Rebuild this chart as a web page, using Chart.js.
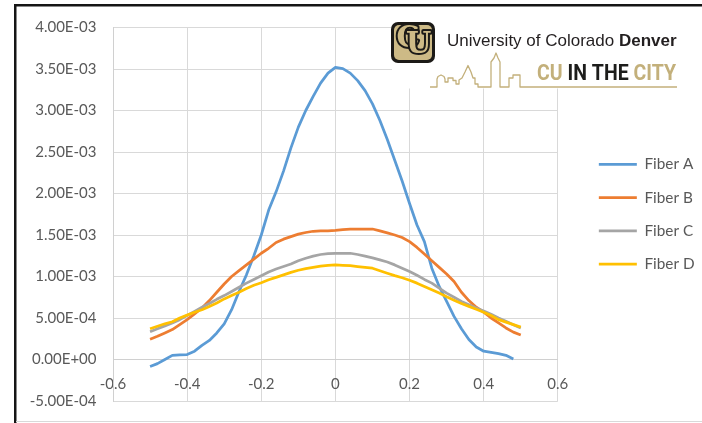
<!DOCTYPE html>
<html>
<head>
<meta charset="utf-8">
<script src="https://cdn.jsdelivr.net/npm/chart.js@4/dist/chart.umd.min.js"></script>
<style>
  html, body { margin: 0; padding: 0; background: #fff; }
  #wrap { width: 702px; height: 423px; }
</style>
</head>
<body>
<div id="wrap"><canvas id="chart" width="702" height="423"></canvas></div>
<script>
// Signal profile across the fiber cross-section (y values given in units of 1e-3)
const UNIT = 1e-3;

const positions = [
  -0.50, -0.48, -0.46, -0.44, -0.42, -0.40, -0.38, -0.36, -0.34, -0.32,
  -0.30, -0.28, -0.26, -0.24, -0.22, -0.20, -0.18, -0.16, -0.14, -0.12,
  -0.10, -0.08, -0.06, -0.04, -0.02, 0.00, 0.02, 0.04, 0.06, 0.08,
  0.10, 0.12, 0.14, 0.16, 0.18, 0.20, 0.22, 0.24, 0.26, 0.28,
  0.30, 0.32, 0.34, 0.36, 0.38, 0.40, 0.42, 0.44, 0.46, 0.48, 0.50
];

const seriesNames = ['Fiber A', 'Fiber B', 'Fiber C', 'Fiber D'];

const fiberA = [
  -0.085, -0.050, 0.000, 0.050, 0.055, 0.060, 0.100, 0.170, 0.230, 0.320,
  0.430, 0.600, 0.820, 1.020, 1.250, 1.500, 1.800, 2.020, 2.270, 2.550,
  2.800, 3.000, 3.170, 3.330, 3.450, 3.520, 3.505, 3.450, 3.360, 3.240,
  3.080, 2.880, 2.650, 2.400, 2.150, 1.880, 1.620, 1.420, 1.100, 0.880,
  0.700, 0.520, 0.370, 0.240, 0.150, 0.100, 0.085, 0.070, 0.050, 0.005, null
];

const fiberB = [
  0.245, 0.280, 0.320, 0.360, 0.420, 0.480, 0.550, 0.620, 0.710, 0.810,
  0.910, 1.000, 1.070, 1.140, 1.210, 1.280, 1.340, 1.410, 1.450, 1.480,
  1.510, 1.530, 1.545, 1.550, 1.550, 1.555, 1.565, 1.572, 1.572, 1.572,
  1.572, 1.550, 1.525, 1.500, 1.470, 1.420, 1.350, 1.270, 1.190, 1.110,
  1.030, 0.940, 0.810, 0.710, 0.630, 0.570, 0.500, 0.440, 0.380, 0.330, 0.295
];

const fiberC = [
  0.335, 0.370, 0.405, 0.440, 0.480, 0.530, 0.580, 0.630, 0.675, 0.725,
  0.770, 0.820, 0.870, 0.920, 0.965, 1.010, 1.055, 1.090, 1.120, 1.150,
  1.190, 1.220, 1.245, 1.265, 1.275, 1.280, 1.280, 1.280, 1.265, 1.245,
  1.225, 1.200, 1.175, 1.140, 1.100, 1.060, 1.015, 0.965, 0.920, 0.860,
  0.800, 0.750, 0.700, 0.660, 0.620, 0.585, 0.545, 0.500, 0.460, 0.420, 0.380
];

const fiberD = [
  0.370, 0.400, 0.430, 0.455, 0.500, 0.535, 0.570, 0.600, 0.640, 0.680,
  0.730, 0.770, 0.810, 0.855, 0.895, 0.925, 0.960, 0.990, 1.020, 1.050,
  1.075, 1.095, 1.110, 1.125, 1.135, 1.140, 1.135, 1.130, 1.120, 1.110,
  1.100, 1.070, 1.040, 1.010, 0.985, 0.955, 0.920, 0.880, 0.840, 0.800,
  0.755, 0.715, 0.675, 0.640, 0.605, 0.570, 0.530, 0.480, 0.450, 0.420, 0.390
];

const xTickValues = [-0.6, -0.4, -0.2, 0, 0.2, 0.4, 0.6];
const xTickLabels = ['-0.6', '-0.4', '-0.2', '0', '0.2', '0.4', '0.6'];

const yTickValues = [-5e-4, 0, 5e-4, 1e-3, 1.5e-3, 2e-3, 2.5e-3, 3e-3, 3.5e-3, 4e-3];
const yTickLabels = ['-5.00E-04', '0.00E+00', '5.00E-04', '1.00E-03', '1.50E-03',
                     '2.00E-03', '2.50E-03', '3.00E-03', '3.50E-03', '4.00E-03'];

const seriesColors = ['#5B9BD5', '#ED7D31', '#A5A5A5', '#FFC000'];

const TEXT_FONT = 'Lato, "Open Sans", sans-serif';
const TEXT_SIZE = 15;
const LEGEND_SIZE = 15.3;
const LEGEND_PAD = 18;
const LEGEND_LINE = 38;

function toPoints(values) {
  return positions.map((x, i) => ({ x: x, y: values[i] === null ? null : values[i] * UNIT }));
}

const seriesValues = [fiberA, fiberB, fiberC, fiberD];

const datasets = seriesNames.map((name, i) => ({
  label: name,
  data: toPoints(seriesValues[i]),
  borderColor: seriesColors[i],
  backgroundColor: seriesColors[i],
  borderWidth: 2.75,
  pointRadius: 0,
  pointHoverRadius: 0,
  tension: 0,
  fill: false,
  spanGaps: false,
  borderJoinStyle: 'round',
  order: seriesNames.length - 1 - i   // later series painted on top
}));

// Outer frame: dark rule on the left and top, faint rule at the bottom
const framePlugin = {
  id: 'frame',
  beforeDraw(chart) {
    const ctx = chart.ctx;
    ctx.save();
    ctx.fillStyle = '#ffffff';
    ctx.fillRect(0, 0, chart.width, chart.height);
    ctx.restore();
  },
  afterDraw(chart) {
    const ctx = chart.ctx;
    ctx.save();
    ctx.fillStyle = '#151515';
    ctx.fillRect(14, 4, chart.width - 14, 2.5);
    ctx.fillRect(14, 4, 2.5, chart.height - 4);
    ctx.fillStyle = '#d9d9d9';
    ctx.fillRect(16, 421, chart.width - 16, 1);
    ctx.restore();
  }
};

// University branding block in the upper right corner
const GOLD = '#C3B07B';
function drawShield(ctx, x, y, w, h) {
  ctx.save();
  ctx.fillStyle = '#1c1a17';
  ctx.beginPath();
  ctx.roundRect(x, y, w, h, 7);
  ctx.fill();
  ctx.fillStyle = '#CDBA86';
  ctx.beginPath();
  ctx.roundRect(x + 3, y + 3, w - 6, h - 6, 5);
  ctx.fill();
  ctx.font = 'bold 29px "DejaVu Serif", serif';
  ctx.textAlign = 'center';
  ctx.textBaseline = 'middle';
  ctx.lineJoin = 'round';
  ctx.lineWidth = 4;
  ctx.strokeStyle = '#1c1a17';
  ctx.fillStyle = '#CDBA86';
  ctx.strokeText('C', x + w * 0.39, y + h * 0.42);
  ctx.fillText('C', x + w * 0.39, y + h * 0.42);
  ctx.strokeText('U', x + w * 0.63, y + h * 0.58);
  ctx.fillText('U', x + w * 0.63, y + h * 0.58);
  ctx.restore();
}

function drawSkyline(ctx) {
  const pts = [
    [430, 87], [437, 87], [437, 79], [438, 76.5], [441, 75], [444, 76.5], [445, 79],
    [445, 82], [448, 82], [448, 78], [453, 78], [453, 80.5], [456, 80.5], [456, 84],
    [459, 84], [459, 80], [462, 78], [465, 72], [468, 65.5], [471, 72], [473, 78],
    [475, 78], [475, 84], [478, 84], [478, 87], [491, 87], [491, 62], [494, 58],
    [496, 53], [498, 58], [500, 62], [500, 87], [509, 87], [509, 78], [513, 78],
    [513, 75], [520, 75], [520, 87], [677, 87]
  ];
  ctx.save();
  ctx.strokeStyle = GOLD;
  ctx.lineWidth = 1.3;
  ctx.lineJoin = 'round';
  ctx.beginPath();
  pts.forEach((p, i) => (i ? ctx.lineTo(p[0], p[1]) : ctx.moveTo(p[0], p[1])));
  ctx.stroke();
  ctx.restore();
}

const brandPlugin = {
  id: 'brand',
  afterDraw(chart) {
    const ctx = chart.ctx;
    ctx.save();
    ctx.fillStyle = '#ffffff';
    ctx.fillRect(392, 9, 310, 79.5);

    drawShield(ctx, 391, 22, 44, 41);

    ctx.textBaseline = 'alphabetic';
    ctx.textAlign = 'left';
    ctx.fillStyle = '#231f20';
    ctx.font = '17px "Liberation Sans", Arial, sans-serif';
    const lead = 'University of Colorado ';
    ctx.fillText(lead, 447, 45.5);
    const leadW = ctx.measureText(lead).width;
    ctx.font = 'bold 17px "Liberation Sans", Arial, sans-serif';
    ctx.fillText('Denver', 447 + leadW, 45.5);

    // condensed headline, squeezed to its slot
    const parts = [['CU ', GOLD], ['IN THE ', '#1d1d1b'], ['CITY', GOLD]];
    ctx.font = 'bold 22px Roboto, "Liberation Sans", sans-serif';
    const total = parts.reduce((s, p) => s + ctx.measureText(p[0]).width, 0);
    const sx = 139 / total;
    ctx.translate(537, 79.5);
    ctx.scale(sx, 1);
    let cx = 0;
    parts.forEach(([txt, col]) => {
      ctx.fillStyle = col;
      ctx.fillText(txt, cx, 0);
      cx += ctx.measureText(txt).width;
    });
    ctx.restore();

    drawSkyline(ctx);
  }
};

const gridColor = '#d9d9d9';
const tickFont = { family: TEXT_FONT, size: TEXT_SIZE };

const chart = new Chart(document.getElementById('chart'), {
  type: 'line',
  data: { datasets: datasets },
  options: {
    responsive: false,
    animation: false,
    devicePixelRatio: 1,
    events: [],
    layout: { padding: { left: 0, top: 27.5, right: 12, bottom: 22 } },
    scales: {
      x: {
        type: 'linear',
        position: { y: 0 },
        min: -0.6,
        max: 0.6,
        afterBuildTicks(scale) { scale.ticks = xTickValues.map(v => ({ value: v })); },
        grid: { color: gridColor, lineWidth: 1, drawTicks: false },
        border: { color: '#d0d0d0', width: 1 },
        ticks: {
          padding: 15.5,
          color: '#595959',
          font: tickFont,
          maxRotation: 0,
          autoSkip: false,
          callback(value, index) { return xTickLabels[index]; }
        }
      },
      y: {
        type: 'linear',
        position: 'left',
        min: -5e-4,
        max: 4e-3,
        afterBuildTicks(scale) { scale.ticks = yTickValues.map(v => ({ value: v })); },
        afterFit(scale) { scale.width = 113; },
        grid: { color: gridColor, lineWidth: 1, drawTicks: true, tickLength: 13.5, tickColor: 'rgba(0,0,0,0)' },
        border: { color: '#d0d0d0', width: 1 },
        ticks: {
          padding: 3,
          color: '#595959',
          font: tickFont,
          autoSkip: false,
          callback(value, index) { return yTickLabels[index]; }
        }
      },
      gap: {
        type: 'linear',
        position: 'right',
        display: true,
        grid: { display: false, drawTicks: false },
        border: { display: false },
        ticks: { display: false },
        afterFit(scale) { scale.width = 23; }
      }
    },
    plugins: {
      legend: {
        position: 'right',
        fullSize: false,
        align: 'center',
        labels: {
          usePointStyle: true,
          pointStyle: 'line',
          pointStyleWidth: LEGEND_LINE,
          boxWidth: LEGEND_LINE,
          boxHeight: LEGEND_SIZE,
          padding: LEGEND_PAD,
          color: '#595959',
          font: { family: TEXT_FONT, size: LEGEND_SIZE },
          sort: (a, b) => a.datasetIndex - b.datasetIndex
        }
      },
      tooltip: { enabled: false },
      title: { display: false }
    }
  },
  plugins: [framePlugin, brandPlugin]
});

// put the legend's first line sample at x = 600 (plot area ends where the gap axis begins)
const shift = (chart.legend.left + LEGEND_PAD) - 600;
if (Math.abs(shift) > 0.25) {
  chart.options.layout.padding.right += shift;
  chart.update('none');
}
</script>
</body>
</html>
